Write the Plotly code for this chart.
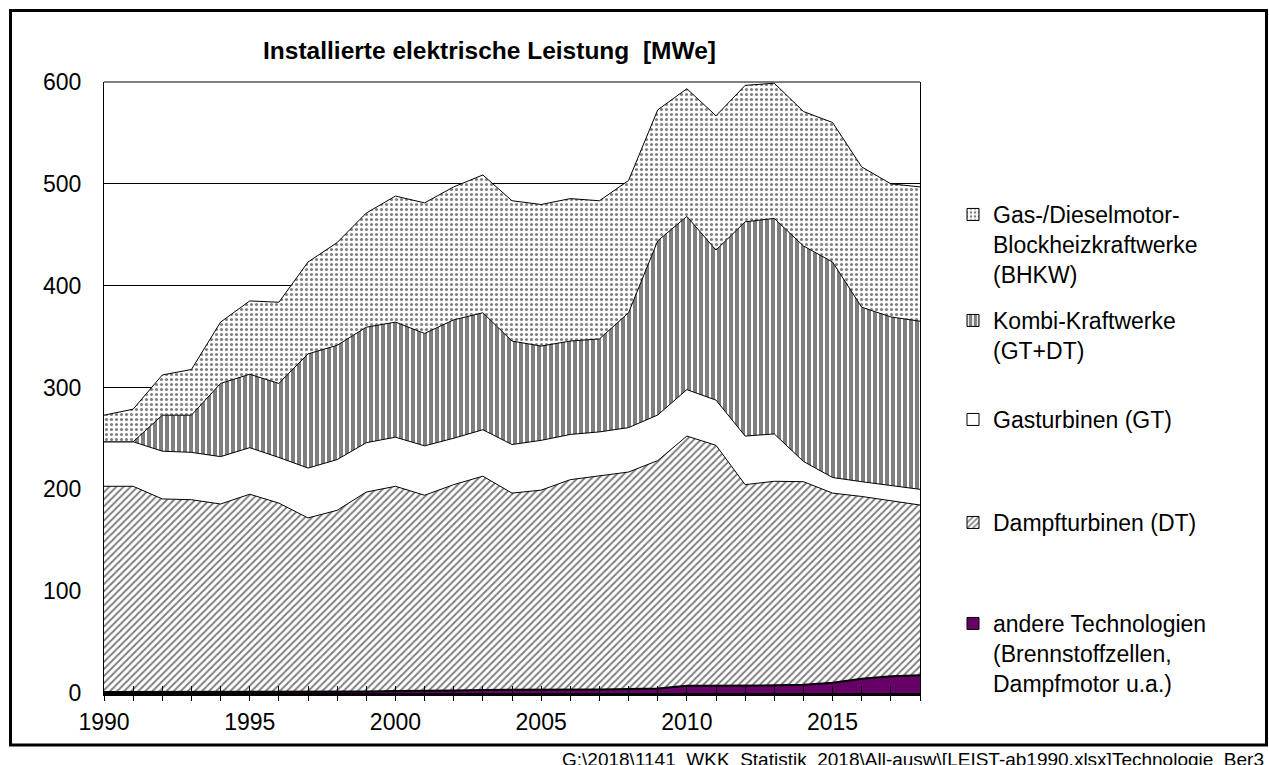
import plotly.graph_objects as go

years = list(range(1990, 2019))
tick_labels = ["1990" if y == 1990 else (str(y) if y % 5 == 0 else "") for y in years]

andere = [1, 1, 1, 1, 1, 1, 1, 1, 1.5, 1.5, 2, 2, 2.5, 3, 3, 3, 3, 3.5, 4, 4.5,
          7, 7, 7, 7.5, 8, 10, 14, 16.5, 17.5]
dampf = [202, 202, 189.6, 188.8, 184.6, 194.2, 185.5, 170.9, 177.9, 195.8, 201, 192.2,
         202.1, 209.9, 193.3, 196.2, 206.5, 209.4, 213, 223.7, 245.3, 236.2, 197.6, 200.4,
         199.5, 186.3, 179, 172.3, 167.1]
gasturb = [43.7, 43.7, 46.9, 46.5, 46.5, 45.7, 44.8, 49, 49.8, 48.5, 48.2, 48.5, 45.6,
           45.6, 47.7, 48.9, 44.4, 43.5, 43.6, 44.8, 45.6, 44.4, 47.7, 46.5, 19.9, 15.3,
           14.5, 14.9, 15.4]
kombi = [0, 0, 35.3, 36.5, 71.9, 72.1, 72.7, 112.1, 112.2, 113.4, 113, 110.4, 116.2,
         114.9, 101.6, 92.6, 91.7, 91.3, 112.8, 171, 170.1, 147.3, 210.4, 211.6, 211.6,
         211.6, 171.3, 165.6, 165.1]
bhkw = [26.1, 32, 39.5, 44.9, 60.2, 72, 79.7, 90.2, 100.9, 112.1, 123.8, 128.2, 130.6,
        135.3, 137.8, 139, 139.9, 135.7, 129.9, 128.6, 125.4, 131.9, 134, 132.8, 132,
        137, 137.8, 130.7, 131.9]

names = {
    "bhkw": "Gas-/Dieselmotor-<br>Blockheizkraftwerke<br>(BHKW)",
    "kombi": "Kombi-Kraftwerke<br>(GT+DT)",
    "gt": "Gasturbinen (GT)",
    "dt": "Dampfturbinen (DT)",
    "andere": "andere Technologien<br>(Brennstoffzellen,<br>Dampfmotor u.a.)",
}
title_text = "<b>Installierte elektrische Leistung  [MWe]</b>"
footer_text = "G:\\2018\\1141_WKK_Statistik_2018\\All-ausw\\[LEIST-ab1990.xlsx]Technologie_Ber3"

FONT = "Liberation Sans, Arial, sans-serif"
W_, H_ = 1269, 765
PL, PR, PT, PB = 104, 920, 82, 693
PW, PH = PR - PL, PB - PT


def px(x):
    return (x - PL) / PW


def py(y):
    return (PB - y) / PH


styles = {
    "andere": dict(fillcolor="#660066", pattern=None, lw=2),
    "dt": dict(fillcolor="white", pattern=dict(shape="/", fgcolor="black", bgcolor="white", size=5, solidity=0.4), lw=1),
    "gt": dict(fillcolor="white", pattern=None, lw=1),
    "kombi": dict(fillcolor="white", pattern=dict(shape="|", fgcolor="black", bgcolor="white", size=6, solidity=0.667), lw=1),
    "bhkw": dict(fillcolor="white", pattern=dict(shape=".", fgcolor="black", bgcolor="white", size=5, solidity=0.3), lw=1),
}
series = [("andere", andere), ("dt", dampf), ("gt", gasturb), ("kombi", kombi), ("bhkw", bhkw)]

fig = go.Figure()
for key, vals in series:
    st = styles[key]
    kw = dict(
        x=years, y=vals, mode="lines", stackgroup="one",
        line=dict(color="black", width=st["lw"]),
        fillcolor=st["fillcolor"], showlegend=False, hoverinfo="skip",
    )
    if st["pattern"]:
        kw["fillpattern"] = st["pattern"]
    fig.add_trace(go.Scatter(**kw))

# legend entries (one legend per item for Excel-like spacing)
legend_tops = {"bhkw": 193, "kombi": 299, "gt": 398, "dt": 501, "andere": 602}
legend_ids = {"bhkw": "legend", "kombi": "legend2", "gt": "legend3", "dt": "legend4", "andere": "legend5"}
for key in ["bhkw", "kombi", "gt", "dt", "andere"]:
    st = styles[key]
    marker = dict(color=st["fillcolor"], line=dict(color="black", width=1))
    if st["pattern"]:
        marker["pattern"] = st["pattern"]
    fig.add_trace(go.Bar(x=[None], y=[None], name=names[key], marker=marker,
                         legend=legend_ids[key], showlegend=True, hoverinfo="skip"))

# helper trace for the inner tick marks
fig.add_trace(go.Scatter(x=[None], y=[None], xaxis="x2", yaxis="y", showlegend=False, hoverinfo="skip"))

legend_layout = {}
for key, lid in legend_ids.items():
    legend_layout[lid] = dict(
        x=px(953), y=py(legend_tops[key]), xanchor="left", yanchor="top",
        bgcolor="rgba(0,0,0,0)", borderwidth=0, valign="top",
        font=dict(family=FONT, size=23, color="black"),
    )

fig.update_layout(
    width=W_, height=H_,
    margin=dict(l=PL, r=W_ - PR, t=PT, b=H_ - PB, pad=0),
    paper_bgcolor="white", plot_bgcolor="white",
    font=dict(family=FONT, size=23, color="black"),
    title=dict(text=title_text, x=489.5 / W_, xref="container", xanchor="center",
               y=1 - 50 / H_, yref="container", yanchor="middle",
               font=dict(family=FONT, size=24.5, color="black")),
    xaxis=dict(range=[1990, 2018], tickvals=years, ticktext=tick_labels,
               ticks="outside", ticklen=5, tickwidth=1, tickcolor="black",
               showline=True, linecolor="black", linewidth=2.5,
               showgrid=False, zeroline=False, tickangle=0, ticklabelstandoff=2,
               tickfont=dict(family=FONT, size=23, color="black")),
    xaxis2=dict(range=[1990, 2018], tickvals=years, overlaying="x", anchor="y", side="bottom",
                ticks="inside", ticklen=7, tickwidth=1, tickcolor="black",
                showticklabels=False, showline=False, showgrid=False, zeroline=False),
    yaxis=dict(range=[0, 600], dtick=100, tick0=0, showgrid=True, gridcolor="black", gridwidth=1,
               showline=True, linecolor="black", linewidth=1, mirror=True,
               ticks="", zeroline=False, ticklabelstandoff=17,
               tickfont=dict(family=FONT, size=23, color="black")),
    shapes=[
        dict(type="line", xref="paper", yref="paper", x0=0, x1=1, y0=1, y1=1,
             line=dict(color="black", width=1)),
        dict(type="rect", xref="paper", yref="paper",
             x0=px(10.5), x1=px(1266.5), y0=py(745), y1=py(10.5),
             line=dict(color="black", width=3), fillcolor="rgba(0,0,0,0)"),
    ],
    annotations=[
        dict(text=footer_text, xref="paper", yref="paper", x=px(1266), y=py(747),
             xanchor="right", yanchor="top", showarrow=False,
             font=dict(family=FONT, size=19, color="black")),
    ],
    showlegend=True,
    **legend_layout,
)

fig.write_html("out.html", config={"displayModeBar": False},
               post_script="document.body.style.margin='0';document.body.style.overflow='hidden';")
